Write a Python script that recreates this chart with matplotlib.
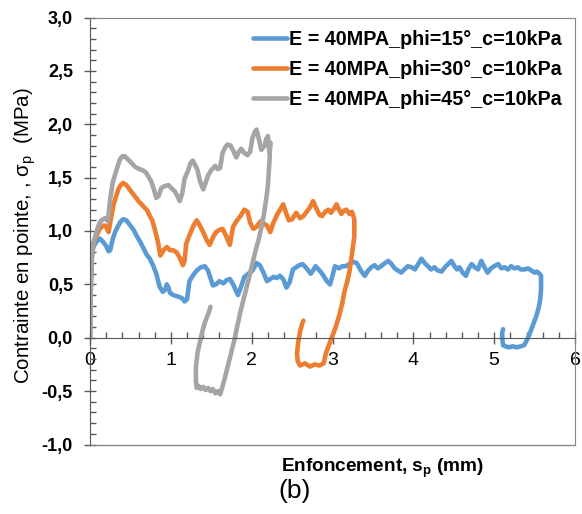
import matplotlib
matplotlib.use('Agg')
import matplotlib.pyplot as plt
from matplotlib.ticker import MultipleLocator

plt.rcParams['font.family'] = ['Liberation Sans', 'DejaVu Sans']
plt.rcParams['mathtext.fontset'] = 'custom'
plt.rcParams['mathtext.rm'] = 'Liberation Sans'
plt.rcParams['mathtext.bf'] = 'Liberation Sans:bold'

x_phi15 = [0.00, 0.01, 0.02, 0.04, 0.08, 0.12, 0.16, 0.20, 0.23, 0.25, 0.28, 0.31, 0.35,
           0.38, 0.41, 0.45, 0.50, 0.54, 0.58, 0.62, 0.66, 0.70, 0.74, 0.78, 0.82, 0.86,
           0.90, 0.93, 0.95, 0.97, 0.99, 1.03, 1.07, 1.11, 1.14, 1.17, 1.20, 1.23, 1.27,
           1.32, 1.37, 1.42, 1.46, 1.49, 1.52, 1.56, 1.60, 1.65, 1.69, 1.73, 1.77, 1.80,
           1.83, 1.87, 1.91, 1.96, 2.01, 2.06, 2.10, 2.14, 2.19, 2.23, 2.27, 2.31, 2.35,
           2.39, 2.43, 2.47, 2.51, 2.55, 2.59, 2.63, 2.68, 2.73, 2.76, 2.79, 2.84, 2.89,
           2.93, 2.97, 3.00, 3.03, 3.08, 3.12, 3.16, 3.21, 3.26, 3.30, 3.35, 3.40, 3.44,
           3.48, 3.52, 3.56, 3.60, 3.65, 3.69, 3.73, 3.77, 3.81, 3.85, 3.89, 3.93, 3.98,
           4.02, 4.06, 4.10, 4.14, 4.18, 4.22, 4.26, 4.30, 4.35, 4.39, 4.43, 4.47, 4.51,
           4.54, 4.57, 4.61, 4.65, 4.68, 4.72, 4.76, 4.80, 4.84, 4.88, 4.92, 4.96, 5.00,
           5.05, 5.09, 5.13, 5.17, 5.21, 5.25, 5.29, 5.33, 5.38, 5.42, 5.46, 5.50, 5.53,
           5.56, 5.58, 5.58, 5.57, 5.55, 5.52, 5.49, 5.46, 5.43, 5.40, 5.37, 5.33, 5.28,
           5.23, 5.18, 5.14, 5.11, 5.10, 5.10, 5.11]
y_phi15 = [0.00, 0.45, 0.72, 0.85, 0.90, 0.93, 0.90, 0.86, 0.81, 0.82, 0.92, 0.99, 1.05,
           1.09, 1.11, 1.10, 1.05, 1.01, 0.95, 0.90, 0.84, 0.78, 0.74, 0.68, 0.60, 0.48,
           0.43, 0.45, 0.50, 0.47, 0.42, 0.40, 0.39, 0.38, 0.37, 0.34, 0.36, 0.53, 0.58,
           0.63, 0.66, 0.67, 0.63, 0.56, 0.49, 0.50, 0.53, 0.51, 0.54, 0.55, 0.50, 0.45,
           0.40, 0.48, 0.57, 0.60, 0.63, 0.70, 0.68, 0.62, 0.53, 0.55, 0.57, 0.56, 0.58,
           0.55, 0.47, 0.52, 0.64, 0.66, 0.68, 0.69, 0.65, 0.60, 0.63, 0.67, 0.63, 0.58,
           0.53, 0.50, 0.58, 0.67, 0.65, 0.67, 0.67, 0.69, 0.71, 0.70, 0.63, 0.58, 0.63,
           0.66, 0.68, 0.65, 0.67, 0.70, 0.72, 0.69, 0.65, 0.63, 0.61, 0.64, 0.67, 0.66,
           0.64, 0.69, 0.74, 0.70, 0.67, 0.64, 0.66, 0.63, 0.62, 0.66, 0.69, 0.72, 0.67,
           0.64, 0.66, 0.61, 0.58, 0.64, 0.69, 0.66, 0.64, 0.72, 0.66, 0.61, 0.65, 0.67,
           0.69, 0.65, 0.66, 0.64, 0.67, 0.65, 0.66, 0.64, 0.64, 0.65, 0.63, 0.61, 0.62,
           0.60, 0.58, 0.46, 0.36, 0.28, 0.20, 0.14, 0.08, 0.02, -0.03, -0.07, -0.08, -0.09,
           -0.08, -0.09, -0.08, -0.07, 0.00, 0.05, 0.08]

x_phi30 = [0.00, 0.01, 0.02, 0.05, 0.08, 0.12, 0.16, 0.19, 0.23, 0.26, 0.29, 0.32, 0.35,
           0.38, 0.41, 0.45, 0.50, 0.55, 0.60, 0.65, 0.71, 0.74, 0.77, 0.80, 0.84, 0.87,
           0.91, 0.95, 0.99, 1.03, 1.07, 1.11, 1.15, 1.17, 1.19, 1.23, 1.28, 1.32, 1.36,
           1.40, 1.44, 1.48, 1.52, 1.56, 1.60, 1.64, 1.68, 1.73, 1.77, 1.81, 1.86, 1.91,
           1.95, 1.98, 2.02, 2.06, 2.11, 2.15, 2.19, 2.23, 2.27, 2.32, 2.36, 2.39, 2.42,
           2.46, 2.50, 2.55, 2.60, 2.64, 2.68, 2.72, 2.76, 2.80, 2.84, 2.87, 2.91, 2.95,
           2.98, 3.02, 3.05, 3.08, 3.11, 3.14, 3.17, 3.21, 3.24, 3.27, 3.27, 3.24, 3.21,
           3.18, 3.15, 3.12, 3.08, 3.04, 3.00, 2.96, 2.92, 2.89, 2.84, 2.78, 2.72, 2.66,
           2.60, 2.57, 2.56, 2.58, 2.60, 2.62, 2.64]
y_phi30 = [0.00, 0.50, 0.78, 0.90, 0.96, 1.02, 1.05, 1.05, 0.99, 1.12, 1.24, 1.32, 1.39,
           1.43, 1.45, 1.43, 1.38, 1.33, 1.28, 1.24, 1.19, 1.14, 1.10, 1.02, 0.90, 0.77,
           0.82, 0.85, 0.82, 0.82, 0.80, 0.75, 0.68, 0.72, 0.88, 0.96, 1.05, 1.10, 1.05,
           0.99, 0.92, 0.87, 0.94, 0.99, 1.01, 1.02, 0.96, 0.87, 1.04, 1.09, 1.14, 1.20,
           1.18, 1.08, 1.02, 1.04, 1.09, 1.07, 1.05, 0.99, 1.08, 1.16, 1.21, 1.25, 1.18,
           1.10, 1.11, 1.17, 1.12, 1.14, 1.18, 1.22, 1.28, 1.21, 1.15, 1.14, 1.18, 1.20,
           1.17, 1.21, 1.25, 1.20, 1.16, 1.19, 1.20, 1.16, 1.18, 1.11, 0.95, 0.78, 0.62,
           0.52, 0.44, 0.32, 0.20, 0.10, 0.02, -0.06, -0.14, -0.24, -0.26, -0.25, -0.27,
           -0.24, -0.26, -0.22, -0.15, -0.02, 0.06, 0.12, 0.16]

x_phi45 = [0.00, 0.01, 0.02, 0.04, 0.07, 0.10, 0.13, 0.16, 0.19, 0.22, 0.25, 0.28, 0.31,
           0.34, 0.37, 0.40, 0.43, 0.47, 0.51, 0.56, 0.61, 0.65, 0.69, 0.73, 0.76, 0.79,
           0.82, 0.85, 0.88, 0.92, 0.97, 1.01, 1.05, 1.08, 1.11, 1.14, 1.17, 1.21, 1.24,
           1.27, 1.30, 1.33, 1.36, 1.40, 1.43, 1.46, 1.50, 1.55, 1.58, 1.61, 1.64, 1.67,
           1.70, 1.74, 1.78, 1.81, 1.84, 1.87, 1.91, 1.95, 1.98, 2.01, 2.04, 2.06, 2.09,
           2.12, 2.14, 2.16, 2.18, 2.20, 2.21, 2.22, 2.23, 2.22, 2.20, 2.18, 2.15, 2.12,
           2.09, 2.06, 2.02, 1.98, 1.94, 1.90, 1.86, 1.82, 1.78, 1.74, 1.70, 1.66, 1.63,
           1.61, 1.58, 1.55, 1.52, 1.49, 1.46, 1.43, 1.40, 1.37, 1.34, 1.32, 1.31, 1.31,
           1.33, 1.36, 1.39, 1.42, 1.45, 1.48, 1.49]
y_phi45 = [0.00, 0.50, 0.78, 0.88, 0.97, 1.04, 1.09, 1.11, 1.12, 1.09, 1.30, 1.45, 1.53,
           1.60, 1.67, 1.70, 1.70, 1.67, 1.64, 1.60, 1.58, 1.57, 1.55, 1.50, 1.46, 1.39,
           1.31, 1.33, 1.40, 1.42, 1.43, 1.40, 1.37, 1.33, 1.28, 1.35, 1.49, 1.56, 1.63,
           1.66, 1.62, 1.57, 1.47, 1.39, 1.45, 1.52, 1.57, 1.61, 1.58, 1.59, 1.73, 1.78,
           1.81, 1.80, 1.74, 1.69, 1.74, 1.77, 1.73, 1.71, 1.74, 1.87, 1.93, 1.95, 1.86,
           1.76, 1.78, 1.80, 1.86, 1.89, 1.80, 1.74, 1.83, 1.65, 1.42, 1.30, 1.15, 1.03,
           0.93, 0.85, 0.73, 0.60, 0.48, 0.36, 0.24, 0.10, -0.04, -0.16, -0.28, -0.40, -0.48,
           -0.53, -0.50, -0.52, -0.48, -0.50, -0.47, -0.49, -0.46, -0.48, -0.45, -0.47, -0.40,
           -0.28, -0.14, -0.04, 0.06, 0.14, 0.20, 0.26, 0.29]

labels = ['E = 40MPA_phi=15°_c=10kPa',
          'E = 40MPA_phi=30°_c=10kPa',
          'E = 40MPA_phi=45°_c=10kPa']
colors = ['#5B9BD5', '#ED7D31', '#A5A5A5']

fig = plt.figure(figsize=(5.82, 5.14), dpi=100)
ax = fig.add_axes([90 / 582, 1 - 444.5 / 514, 485 / 582, 427 / 514])

series = [(x_phi15, y_phi15), (x_phi30, y_phi30), (x_phi45, y_phi45)]
for (xs, ys), lab, col in zip(series, labels, colors):
    ax.plot(xs, ys, color=col, lw=3.3, label=lab, solid_joinstyle='round',
            solid_capstyle='round')

ax.set_xlim(0, 6)
ax.set_ylim(-1, 3)

# x axis sits on y = 0, the box is closed by a plain line at y = -1
ax.spines['bottom'].set_position(('data', 0))
ax.axhline(-1, color='#868686', lw=1, clip_on=False)
for side in ['top', 'right']:
    ax.spines[side].set_color('#868686')
ax.spines['left'].set_color('#595959')
ax.spines['bottom'].set_color('#595959')

ax.xaxis.set_major_locator(MultipleLocator(1))
ax.xaxis.set_minor_locator(MultipleLocator(0.2))
ax.yaxis.set_major_locator(MultipleLocator(0.5))
ax.yaxis.set_minor_locator(MultipleLocator(0.1))
ax.yaxis.set_major_formatter(plt.FuncFormatter(lambda v, p: f'{v:.1f}'.replace('.', ',')))

ax.tick_params(axis='both', which='major', direction='inout', length=8.5, width=1,
               color='#595959')
ax.tick_params(axis='both', which='minor', direction='in', length=4, width=1,
               color='#595959')
ax.tick_params(axis='x', which='major', labelsize=14, pad=6)
ax.tick_params(axis='y', which='major', labelsize=13, pad=8)
ax.tick_params(top=False, right=False, which='both')
for t in ax.get_yticklabels():
    t.set_fontweight('bold')

ax.set_ylabel('Contrainte en pointe, , σ$_\\mathregular{p}$  (MPa)', fontsize=14.8)
ax.yaxis.set_label_coords(-52 / 485, (444.5 - 236) / 427)

fig.text(383 / 582, 1 - 468 / 514, 'Enfoncement, s$_\\mathbf{p}$ (mm)', fontsize=13.7,
         fontweight='bold', ha='center', va='center')
fig.text(295 / 582, 1 - 491 / 514, '(b)', fontsize=19, ha='center', va='center')

ax.legend(loc='upper right', frameon=False, prop={'weight': 'bold', 'size': 14.2},
          handlelength=1.75, handletextpad=0.1, labelspacing=0.55,
          bbox_to_anchor=(1.0, 1.0), borderaxespad=0.25)

fig.savefig('out.png', dpi=100)
